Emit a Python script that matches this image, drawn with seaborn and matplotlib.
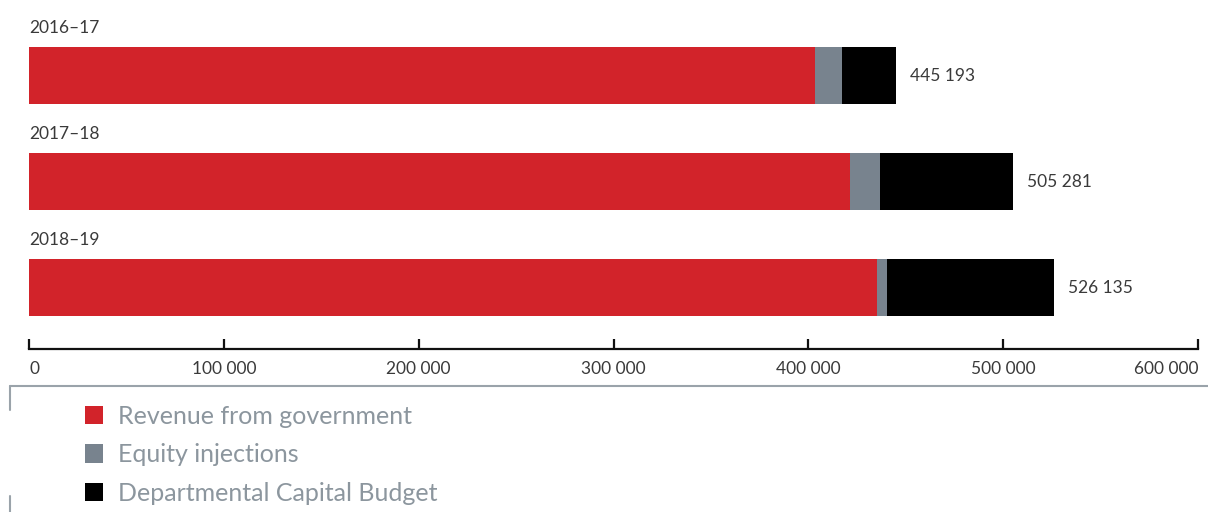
import matplotlib
matplotlib.use("Agg")
import matplotlib.pyplot as plt
import seaborn as sns
import pandas as pd
import numpy as np
from matplotlib.lines import Line2D

years = ["2016–17", "2017–18", "2018–19"]
revenue = [403500, 421500, 435200]
equity = [13900, 15400, 5200]
capital = [27793, 68381, 85735]
totals_labels = ["445 193", "505 281", "526 135"]
series_names = ["Revenue from government", "Equity injections", "Departmental Capital Budget"]
colors = ["#d2232a", "#78838e", "#000000"]
xticks = [0, 100000, 200000, 300000, 400000, 500000, 600000]
xtick_labels = ["0", "100 000", "200 000", "300 000", "400 000", "500 000", "600 000"]

sns.set_theme(style="white")
plt.rcParams["font.family"] = ["Lato", "DejaVu Sans"]

df = pd.DataFrame({"year": years, "rev": revenue, "eq": equity, "cap": capital})
df["c1"] = df["rev"]
df["c2"] = df["rev"] + df["eq"]
df["c3"] = df["c2"] + df["cap"]

fig = plt.figure(figsize=(12.08, 5.12), dpi=100)
ax = fig.add_axes([29/1208, 1 - 349/512, (1198 - 29)/1208, (349 - 20)/512])

bw = 57/106
for col, name, c in [("c3", series_names[2], colors[2]),
                     ("c2", series_names[1], colors[1]),
                     ("c1", series_names[0], colors[0])]:
    sns.barplot(data=df, y="year", x=col, orient="h", color=c, width=bw,
                saturation=1, ax=ax, label=name, linewidth=0)

txt = "#3a3a3a"
ax.set_xlim(0, 600000)
ax.set_ylim(2.58, -0.524)
ax.set_xticks(xticks)
ax.set_xticklabels(xtick_labels, fontsize=12.5, color=txt)
tl = ax.get_xticklabels()
tl[0].set_ha("left")
tl[-1].set_ha("right")
ax.set_yticks([])
ax.set_xlabel("")
ax.set_ylabel("")
for s in ["top", "right", "left"]:
    ax.spines[s].set_visible(False)
ax.spines["bottom"].set_linewidth(1.6)
ax.spines["bottom"].set_color("#111111")
ax.tick_params(axis="x", direction="in", length=7.5, width=1.6, color="#111111", pad=9, bottom=True)

for i, (y, tot, lab) in enumerate(zip(years, df["c3"], totals_labels)):
    ax.text(0, i - bw/2 - 0.1, y, ha="left", va="bottom", fontsize=12.5, color=txt)
    ax.text(tot + 7000, i, lab, ha="left", va="center", fontsize=12.5, color=txt)

handles, labels = ax.get_legend_handles_labels()
hmap = dict(zip(labels, handles))
if ax.get_legend():
    ax.get_legend().remove()
leg = fig.legend([hmap[n] for n in series_names], series_names, loc="upper left",
                 bbox_to_anchor=(62/1208, 1 - 382/512), frameon=False,
                 handlelength=0.75, handleheight=0.75, handletextpad=0.6, labelspacing=0.63,
                 prop={"size": 18})
for t in leg.get_texts():
    t.set_color("#8c969e")

lc = "#9aa3aa"
fig.add_artist(Line2D([10/1208, 1], [1 - 386/512, 1 - 386/512], color=lc, lw=1.5, transform=fig.transFigure))
fig.add_artist(Line2D([10/1208, 10/1208], [1 - 386/512, 1 - 410/512], color=lc, lw=1.5, transform=fig.transFigure))
fig.add_artist(Line2D([10/1208, 10/1208], [1 - 496/512, 0], color=lc, lw=1.5, transform=fig.transFigure))

fig.savefig("out.png", dpi=100)
